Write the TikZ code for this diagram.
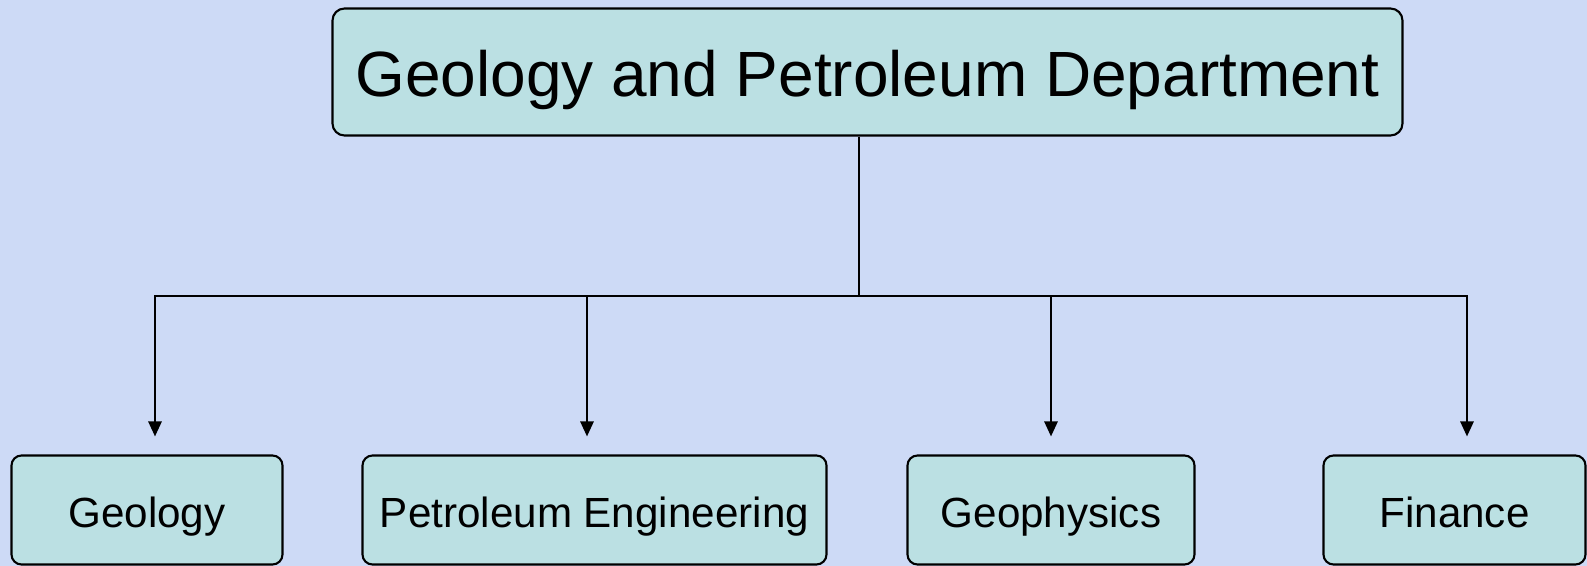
\documentclass[tikz,border=0pt]{standalone}
\usepackage{fontspec}
\setmainfont{Liberation Sans}
\usetikzlibrary{arrows.meta,positioning}
\definecolor{boxcyan}{RGB}{187,224,227}
\definecolor{paper}{RGB}{205,218,246}
\tikzset{
  head/.style={rectangle, rounded corners=0.12cm, draw=black, line width=0.6pt, fill=boxcyan,
               minimum width=10.7cm, minimum height=1.27cm, text height=0.49cm, text depth=0pt,
               font=\fontsize{18.2}{22}\selectfont, text centered},
  unit/.style={rectangle, rounded corners=0.1cm, draw=black, line width=0.6pt, fill=boxcyan,
               minimum height=1.09cm, inner sep=0pt, text height=0.36cm, text depth=0pt,
               font=\fontsize{12}{14}\selectfont, text centered},
  link/.style={line width=0.6pt, black},
  arr/.style={-{Triangle[length=4.3pt,width=3.8pt]}, line width=0.6pt, black, shorten >=0.18cm},
}
\begin{document}
\begin{tikzpicture}
    \fill[paper] (0,0) rectangle (15.87,5.66);
    \useasboundingbox (0,0) rectangle (15.87,5.66);

    \node[head] (dept) at (8.675,4.94) {Geology and Petroleum Department};
    \coordinate (hub) at (8.59,2.70);
    \draw[link] (dept.south -| hub) -- (hub);

    \foreach \nm/\x/\w/\lbl/\dx in {
        geo/1.47/2.71/Geology/0.08,
        pet/5.945/4.64/{Petroleum Engineering}/-0.075,
        gph/10.51/2.87/Geophysics/0,
        fin/14.545/2.62/Finance/0.125}{
      \node[unit,minimum width=\w cm] (\nm) at (\x,0.56) {\lbl};
      \draw[arr] (hub) -| ([xshift=\dx cm]\nm.north);
    }
  \end{tikzpicture}
\end{document}
